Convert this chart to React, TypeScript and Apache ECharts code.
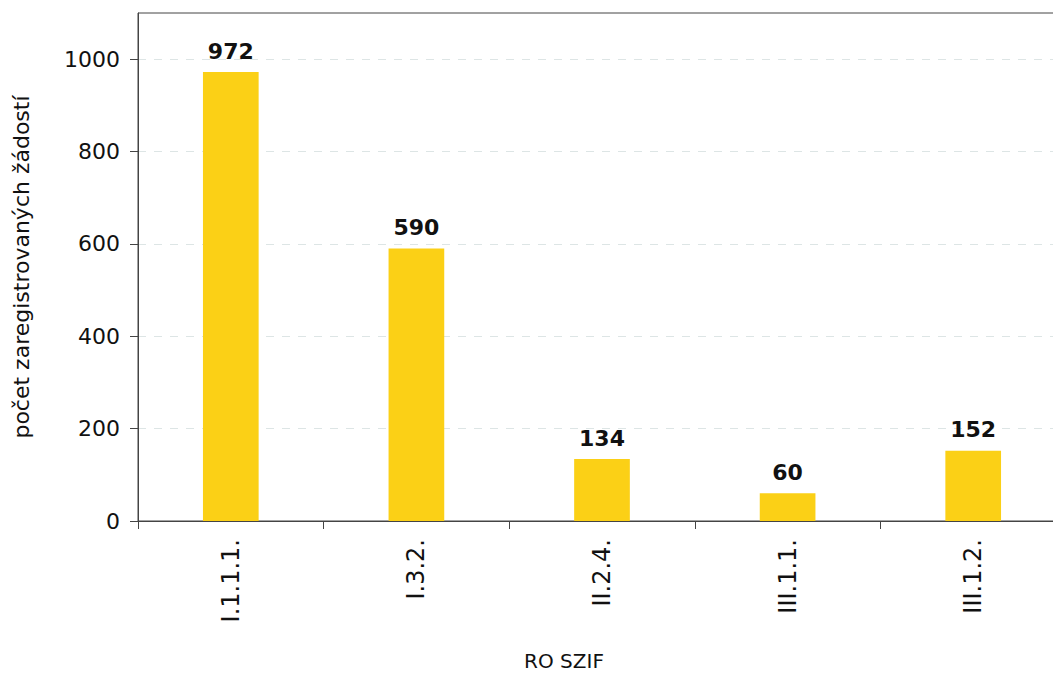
import React, { useEffect, useRef } from "react";
import * as echarts from "echarts";

const categories = ["I.1.1.1.", "I.3.2.", "II.2.4.", "III.1.1.", "III.1.2."];
const values = [972, 590, 134, 60, 152];
const yTicks = [0, 200, 400, 600, 800, 1000];
const xTitle = "RO SZIF";
const yTitle = "počet zaregistrovaných žádostí";

export default function App() {
  const ref = useRef<HTMLDivElement>(null);
  useEffect(() => {
    document.body.style.margin = "0";
    const chart = echarts.init(ref.current!, null, { renderer: "svg" });
    const font = "DejaVu Sans, Verdana, sans-serif";
    chart.setOption({
      animation: false,
      grid: {
        left: 138,
        top: 13,
        width: 928,
        bottom: 153,
        outerBoundsMode: "none",
        containLabel: false,
        show: true,
        borderColor: "#444",
        borderWidth: 1,
        backgroundColor: "transparent",
      },
      xAxis: {
        type: "category",
        data: categories,
        axisLine: { lineStyle: { color: "#444", width: 1 } },
        axisTick: { show: true, length: 8, lineStyle: { color: "#444" } },
        axisLabel: {
          rotate: 90,
          margin: 18,
          fontSize: 24,
          fontFamily: font,
          color: "#111",
        },
      },
      yAxis: {
        type: "value",
        min: 0,
        max: 1100,
        interval: 200,
        name: yTitle,
        nameLocation: "middle",
        nameGap: 106,
        nameTextStyle: { fontSize: 22, fontFamily: font, color: "#111" },
        axisLine: { show: true, lineStyle: { color: "#444", width: 1 } },
        axisTick: { show: true, length: 8, lineStyle: { color: "#444" }, customValues: yTicks },
        axisLabel: {
          margin: 18,
          fontSize: 22,
          fontFamily: font,
          color: "#111",
          customValues: yTicks,
          formatter: (v: number) => String(v),
        },
        splitLine: { lineStyle: { color: "#dde5e5", type: [8, 8], width: 1 } },
      },
      series: [
        {
          type: "bar",
          data: values,
          barWidth: "30%",
          itemStyle: { color: "#fbd016" },
          label: {
            show: true,
            position: "top",
            distance: 10,
            fontSize: 22,
            fontWeight: "bold",
            fontFamily: font,
            color: "#111",
          },
        },
      ],
      graphic: [
        {
          type: "text",
          x: 564,
          y: 661,
          style: {
            text: xTitle,
            fontSize: 20,
            fontFamily: font,
            fill: "#111",
            textAlign: "center",
            textVerticalAlign: "middle",
          },
        },
      ],
    });
    return () => chart.dispose();
  }, []);
  return <div ref={ref} style={{ width: 1053, height: 674 }} />;
}
